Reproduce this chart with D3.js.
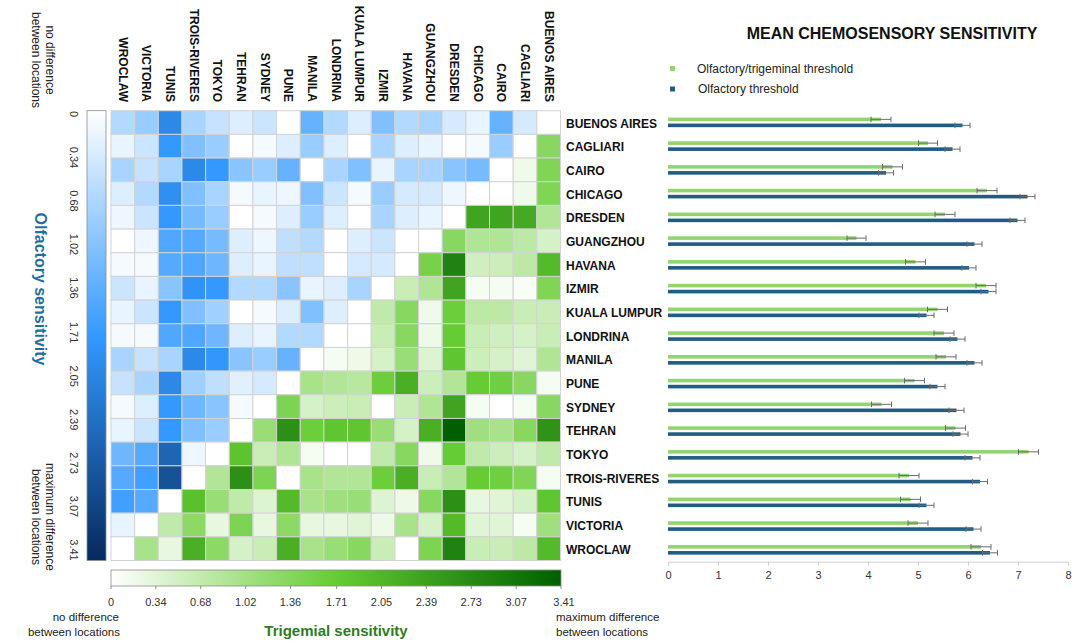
<!DOCTYPE html>
<html>
<head>
<meta charset="utf-8">
<script src="https://cdn.jsdelivr.net/npm/d3@7"></script>
<style>
  body { margin: 0; background: #ffffff; }
  svg { display: block; font-family: "Liberation Sans", Arial, sans-serif; }
</style>
</head>
<body>
<svg id="chart" width="1085" height="643"></svg>
<script>
// Locations, top to bottom in the matrix rows and in the bar chart
const cities = ["BUENOS AIRES", "CAGLIARI", "CAIRO", "CHICAGO", "DRESDEN", "GUANGZHOU",
  "HAVANA", "IZMIR", "KUALA LUMPUR", "LONDRINA", "MANILA", "PUNE", "SYDNEY",
  "TEHRAN", "TOKYO", "TROIS-RIVERES", "TUNIS", "VICTORIA", "WROCLAW"];
// Matrix columns run in the reverse order
const columnCities = cities.slice().reverse();

// Olfactory differences (upper-left triangle): row i holds columns 0 .. 17-i
const olfactoryDiff = [
  [0.64, 0.85, 1.95, 0.72, 0.48, 0.28, 0.43, 0, 1.28, 0.64, 0.28, 1.06, 0.64, 0.72, 0.35, 0.19, 1.28, 0.35],
  [0.19, 0.43, 1.70, 1.06, 0.85, 0, 0.08, 0.28, 0.85, 0.28, 0, 0.72, 0.28, 0.19, 0, 0.08, 0.85],
  [0.72, 0.48, 0.72, 1.95, 1.70, 0.98, 0.85, 1.28, 0, 0.72, 1.06, 0.19, 0.72, 0.72, 0.98, 1.14],
  [0.28, 0.64, 1.85, 1.06, 0.72, 0.08, 0.19, 0.14, 1.06, 0.43, 0.08, 0.85, 0.35, 0.35, 0.14],
  [0.14, 0.43, 1.70, 1.14, 0.85, 0, 0.08, 0.28, 0.85, 0.28, 0, 0.72, 0.28, 0.19],
  [0, 0.14, 1.47, 1.42, 1.14, 0.28, 0.14, 0.53, 0.64, 0, 0.28, 0.43, 0],
  [0.08, 0.08, 1.42, 1.47, 1.21, 0.28, 0.19, 0.53, 0.53, 0, 0.35, 0.35],
  [0.43, 0.19, 0.98, 1.80, 1.70, 0.64, 0.64, 0.98, 0.19, 0.28, 0.72],
  [0.19, 0.43, 1.70, 1.06, 0.79, 0, 0.08, 0.28, 1.06, 0.28],
  [0.08, 0.08, 1.47, 1.47, 1.21, 0.28, 0.19, 0.64, 0.64],
  [0.72, 0.48, 0.72, 1.95, 1.75, 0.98, 0.85, 1.28],
  [0.48, 0.72, 1.95, 0.79, 0.53, 0.25, 0.35],
  [0.08, 0.28, 1.70, 1.21, 0.98, 0.08],
  [0.19, 0.43, 1.70, 1.06, 0.85],
  [1.21, 1.42, 2.50, 0.14],
  [1.42, 1.60, 2.80],
  [1.60, 1.42],
  [0.19],
  []
];

// Trigeminal differences (lower-right triangle): row i holds columns 19-i .. 18
const trigeminalDiff = [
  [],
  [1.33],
  [0.17, 1.42],
  [0, 0.17, 1.42],
  [2.34, 2.34, 2.25, 0.86],
  [1.33, 0.88, 0.88, 0.74, 0.47],
  [1.52, 2.88, 0.52, 0.57, 0.74, 1.99],
  [0.61, 0.88, 2.34, 0.11, 0.11, 0.08, 1.42],
  [0.70, 1.33, 0.17, 1.64, 0.74, 0.74, 0.61, 0.61],
  [0, 0.61, 1.33, 0.19, 1.70, 0.61, 0.52, 0.47, 0.61],
  [0.11, 0.19, 0.47, 1.14, 0.38, 1.82, 0.57, 0.47, 0.35, 0.88],
  [0.97, 0.86, 0.79, 1.64, 2.17, 0.57, 0.86, 1.70, 1.59, 1.33, 0.11],
  [1.45, 0.47, 0.57, 0.61, 0, 0.61, 0.88, 2.34, 0.11, 0, 0.11, 1.33],
  [1.14, 2.66, 1.64, 1.82, 1.82, 1.14, 0.47, 2.17, 3.41, 1.06, 0.97, 1.33, 2.61],
  [1.85, 0.61, 0.88, 0.11, 0, 0, 0.70, 1.33, 0.17, 1.70, 0.70, 0.57, 0.47, 0.70],
  [0.86, 2.66, 1.45, 0, 0.97, 0.86, 0.86, 1.64, 2.17, 0.61, 0.86, 1.70, 1.59, 1.42, 0.11],
  [1.90, 1.14, 0.70, 0.38, 1.99, 0.97, 1.06, 1.14, 0.38, 0.19, 1.33, 2.66, 0.26, 0.35, 0.47, 1.82],
  [0.70, 1.28, 0.26, 1.45, 0.26, 1.28, 0.26, 0.26, 0.35, 0.19, 0.97, 0.47, 1.99, 0.35, 0.35, 0.11, 1.06],
  [0.97, 0.26, 2.17, 1.28, 0.47, 0.61, 2.17, 0.97, 1.14, 1.33, 0.61, 0, 1.45, 2.88, 0.61, 0.61, 0.74, 1.99]
];

// Colour-bar tick values
const scaleTicks = [0, 0.34, 0.68, 1.02, 1.36, 1.71, 2.05, 2.39, 2.73, 3.07, 3.41];
const scaleMax = 3.41;

// Mean thresholds and their error margins, in city order
const trigeminalMean = [4.26, 5.20, 4.49, 6.38, 5.54, 3.77, 4.95, 6.36, 5.39, 5.52, 5.56, 4.93, 4.27, 5.75, 7.21, 4.82, 4.85, 5.00, 6.26];
const trigeminalErr  = [0.20, 0.19, 0.20, 0.20, 0.20, 0.19, 0.20, 0.20, 0.20, 0.20, 0.20, 0.20, 0.20, 0.20, 0.20, 0.20, 0.20, 0.20, 0.20];
const olfactoryMean  = [5.89, 5.69, 4.36, 7.19, 6.99, 6.13, 6.02, 6.41, 5.17, 5.79, 6.13, 5.39, 5.77, 5.85, 6.09, 6.24, 5.17, 6.11, 6.44];
const olfactoryErr   = [0.15, 0.15, 0.15, 0.15, 0.15, 0.15, 0.14, 0.15, 0.15, 0.15, 0.15, 0.15, 0.15, 0.15, 0.15, 0.15, 0.15, 0.15, 0.15];

const svg = d3.select("#chart");

// ---------- colour scales ----------
const blueScale = d3.scaleLinear().domain([0, scaleMax / 2, scaleMax])
  .range(["#ffffff", "#3399ff", "#062a5e"]).clamp(true);
const greenScale = d3.scaleLinear().domain([0, scaleMax / 2, scaleMax])
  .range(["#ffffff", "#66cc33", "#006000"]).clamp(true);

// ---------- heat matrix ----------
const xCell = d3.scaleBand().domain(columnCities).range([111, 560.5]);
const yCell = d3.scaleBand().domain(cities).range([110.7, 560.5]);
const n = cities.length;

const cells = [];
cities.forEach((rowCity, i) => {
  columnCities.forEach((colCity, j) => {
    let kind, value;
    if (j < n - 1 - i) { kind = "olf"; value = olfactoryDiff[i][j]; }
    else if (j === n - 1 - i) { kind = "self"; value = 0; }
    else { kind = "tri"; value = trigeminalDiff[i][j - (n - i)]; }
    cells.push({ rowCity, colCity, kind, value });
  });
});

svg.append("g").selectAll("rect").data(cells).join("rect")
  .attr("x", d => xCell(d.colCity))
  .attr("y", d => yCell(d.rowCity))
  .attr("width", xCell.bandwidth())
  .attr("height", yCell.bandwidth())
  .attr("fill", d => d.kind === "olf" ? blueScale(d.value) : d.kind === "tri" ? greenScale(d.value) : "#ffffff")
  .attr("stroke", "#d3d3d3")
  .attr("stroke-width", 1);

// column labels (rotated)
svg.append("g").selectAll("text").data(columnCities).join("text")
  .attr("transform", d => `translate(${xCell(d) + xCell.bandwidth() / 2},102) rotate(90)`)
  .attr("text-anchor", "end")
  .attr("dominant-baseline", "central")
  .attr("font-size", 12).attr("font-weight", "bold").attr("fill", "#111")
  .text(d => d);

// row labels
svg.append("g").selectAll("text").data(cities).join("text")
  .attr("x", 566)
  .attr("y", d => yCell(d) + yCell.bandwidth() / 2 + 1)
  .attr("dominant-baseline", "central")
  .attr("font-size", 12).attr("font-weight", "bold").attr("fill", "#111")
  .text(d => d);

// ---------- gradients ----------
const defs = svg.append("defs");
function addGradient(id, scale, vertical) {
  const g = defs.append("linearGradient").attr("id", id)
    .attr("x1", "0").attr("y1", "0")
    .attr("x2", vertical ? "0" : "1").attr("y2", vertical ? "1" : "0");
  d3.range(0, 1.0001, 0.05).forEach(t => {
    g.append("stop").attr("offset", t).attr("stop-color", scale(t * scaleMax));
  });
}
addGradient("blueGrad", blueScale, true);
addGradient("greenGrad", greenScale, false);

// vertical olfactory colour bar
const vBar = d3.scaleLinear().domain([0, scaleMax]).range([110.7, 560.5]);
svg.append("rect").attr("x", 87).attr("y", vBar(0)).attr("width", 19)
  .attr("height", vBar(scaleMax) - vBar(0))
  .attr("fill", "url(#blueGrad)").attr("stroke", "#8c8c8c").attr("stroke-width", 0.8);
const vLabel = d3.scaleLinear().domain([0, scaleMax]).range([114, 550]);
svg.append("g").selectAll("text").data(scaleTicks).join("text")
  .attr("transform", d => `translate(74,${vLabel(d)}) rotate(90)`)
  .attr("text-anchor", "middle").attr("dominant-baseline", "central")
  .attr("font-size", 11).attr("fill", "#333")
  .text(d => d === 0 ? "0" : d.toFixed(2));

function rotatedLines(x, y, lines, anchor, size, color) {
  const t = svg.append("text")
    .attr("transform", `translate(${x},${y}) rotate(90)`)
    .attr("text-anchor", anchor).attr("font-size", size).attr("fill", color);
  lines.forEach((l, k) => t.append("tspan").attr("x", 0).attr("dy", k === 0 ? 0 : "1.2em").text(l));
  return t;
}
rotatedLines(46, 60, ["no difference", "between locations"], "middle", 12, "#222");
rotatedLines(46, 517, ["maximum difference", "between locations"], "middle", 12, "#222");
svg.append("text")
  .attr("transform", "translate(35,289) rotate(90)")
  .attr("text-anchor", "middle").attr("font-size", 16).attr("font-weight", "bold")
  .attr("fill", "#1f6e9b").text("Olfactory sensitivity");

// horizontal trigeminal colour bar
const hBar = d3.scaleLinear().domain([0, scaleMax]).range([111, 561]);
svg.append("rect").attr("x", hBar(0)).attr("y", 570).attr("width", hBar(scaleMax) - hBar(0))
  .attr("height", 16).attr("fill", "url(#greenGrad)")
  .attr("stroke", "#8c8c8c").attr("stroke-width", 0.8);
svg.append("g").selectAll("line").data(scaleTicks).join("line")
  .attr("x1", d => hBar(d)).attr("x2", d => hBar(d))
  .attr("y1", 586).attr("y2", 589).attr("stroke", "#8c8c8c");
svg.append("g").selectAll("text").data(scaleTicks).join("text")
  .attr("x", d => hBar(d) + (d === scaleMax ? 3 : 0)).attr("y", 606)
  .attr("text-anchor", "middle").attr("font-size", 11).attr("fill", "#333")
  .text(d => d === 0 ? "0" : d.toFixed(2));

const leftNote = svg.append("text").attr("text-anchor", "end").attr("font-size", 11.5).attr("fill", "#222");
leftNote.append("tspan").attr("x", 119).attr("y", 621).text("no difference");
leftNote.append("tspan").attr("x", 120).attr("y", 636).text("between locations");
const rightNote = svg.append("text").attr("font-size", 11.5).attr("fill", "#222");
rightNote.append("tspan").attr("x", 556).attr("y", 621).text("maximum difference");
rightNote.append("tspan").attr("x", 556).attr("y", 636).text("between locations");
svg.append("text").attr("x", 336).attr("y", 636).attr("text-anchor", "middle")
  .attr("font-size", 15).attr("font-weight", "bold").attr("fill", "#2e7d1f")
  .text("Trigemial sensitivity");

// ---------- bar chart ----------
const xBar = d3.scaleLinear().domain([0, 8]).range([668, 1068]);
const yGroup = d3.scaleBand().domain(cities).range([110.5, 561.7]);
const greenBar = "#92d56f", blueBar = "#1f5c86";
const barH = 3.6, offset = 3;

const rows = cities.map((c, i) => ({
  city: c,
  cy: yGroup(c) + yGroup.bandwidth() / 2,
  tri: trigeminalMean[i], triErr: trigeminalErr[i],
  olf: olfactoryMean[i], olfErr: olfactoryErr[i]
}));

const series = [
  { key: "tri", err: "triErr", color: greenBar, dy: -offset },
  { key: "olf", err: "olfErr", color: blueBar, dy: offset }
];

series.forEach(s => {
  const g = svg.append("g");
  g.selectAll("rect").data(rows).join("rect")
    .attr("x", xBar(0))
    .attr("y", d => d.cy + s.dy - barH / 2)
    .attr("width", d => xBar(d[s.key]) - xBar(0))
    .attr("height", barH)
    .attr("fill", s.color);
  // error bars
  const e = g.selectAll("g.err").data(rows).join("g").attr("class", "err");
  e.append("line")
    .attr("x1", d => xBar(d[s.key] - d[s.err])).attr("x2", d => xBar(d[s.key] + d[s.err]))
    .attr("y1", d => d.cy + s.dy).attr("y2", d => d.cy + s.dy)
    .attr("stroke", "#6b6b6b").attr("stroke-width", 1);
  [-1, 1].forEach(sign => {
    e.append("line")
      .attr("x1", d => xBar(d[s.key] + sign * d[s.err])).attr("x2", d => xBar(d[s.key] + sign * d[s.err]))
      .attr("y1", d => d.cy + s.dy - 2.8).attr("y2", d => d.cy + s.dy + 2.8)
      .attr("stroke", "#6b6b6b").attr("stroke-width", 1);
  });
});

const axis = svg.append("g").attr("transform", "translate(0,561.7)")
  .call(d3.axisBottom(xBar).ticks(8).tickSize(4).tickPadding(6).tickFormat(d3.format("d")));
axis.select(".domain").attr("stroke", "#d0d0d0");
axis.selectAll(".tick line").attr("stroke", "#d0d0d0");
axis.selectAll(".tick text").attr("font-size", 11).attr("fill", "#333")
  .attr("font-family", "\"Liberation Sans\", Arial, sans-serif");

// title and legend
svg.append("text").attr("x", 892).attr("y", 39).attr("text-anchor", "middle")
  .attr("font-size", 16).attr("font-weight", "bold").attr("fill", "#111")
  .text("MEAN CHEMOSENSORY SENSITIVITY");

const legendItems = [
  { label: "Olfactory/trigeminal threshold", color: greenBar, y: 68.5, x: 697 },
  { label: "Olfactory threshold", color: blueBar, y: 89, x: 698 }
];
const lg = svg.append("g").selectAll("g").data(legendItems).join("g");
lg.append("rect").attr("x", 670).attr("y", d => d.y - 2.5).attr("width", 5).attr("height", 5)
  .attr("fill", d => d.color);
lg.append("text").attr("x", d => d.x).attr("y", d => d.y).attr("dominant-baseline", "central")
  .attr("font-size", 12).attr("fill", "#222").text(d => d.label);
</script>
</body>
</html>
